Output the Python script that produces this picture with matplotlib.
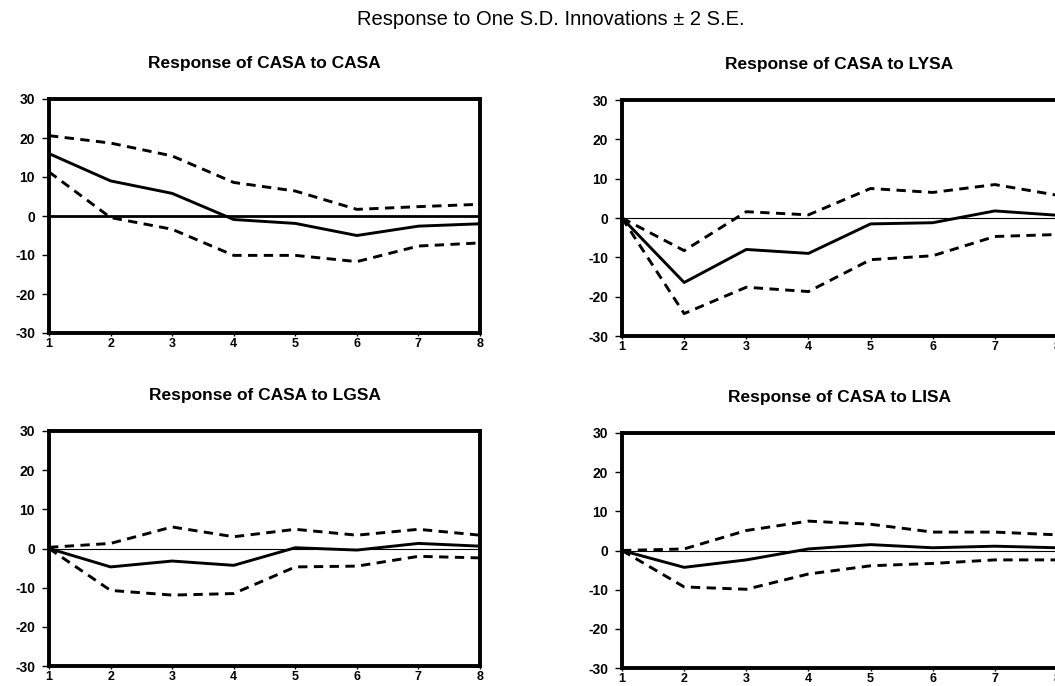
import matplotlib
matplotlib.use("Agg")
import matplotlib.pyplot as plt
import numpy as np

plt.rcParams['font.family'] = ['Liberation Sans', 'DejaVu Sans']

periods = [1, 2, 3, 4, 5, 6, 7, 8]

titles = ["Response of CASA to CASA", "Response of CASA to LYSA",
          "Response of CASA to LGSA", "Response of CASA to LISA"]
main_title = "Response to One S.D. Innovations \u00b1 2 S.E."

# Response of CASA to CASA
casa_mid = [16.0, 9.0, 5.8, -0.9, -1.9, -5.0, -2.6, -2.0]
casa_up = [20.6, 18.7, 15.4, 8.6, 6.4, 1.7, 2.4, 3.0]
casa_lo = [11.3, -0.4, -3.4, -10.1, -10.1, -11.7, -7.7, -6.9]

# Response of CASA to LYSA
lysa_mid = [0.0, -16.4, -8.0, -9.0, -1.5, -1.2, 1.8, 0.7]
lysa_up = [0.0, -8.3, 1.6, 0.8, 7.5, 6.5, 8.5, 5.8]
lysa_lo = [0.0, -24.3, -17.6, -18.7, -10.6, -9.6, -4.7, -4.2]

# Response of CASA to LGSA
lgsa_mid = [0.0, -4.7, -3.2, -4.3, 0.2, -0.4, 1.3, 0.6]
lgsa_up = [0.3, 1.3, 5.5, 3.0, 4.9, 3.4, 4.9, 3.4]
lgsa_lo = [0.0, -10.7, -11.9, -11.5, -4.7, -4.5, -2.0, -2.4]

# Response of CASA to LISA
lisa_mid = [0.0, -4.3, -2.4, 0.4, 1.5, 0.7, 1.1, 0.7]
lisa_up = [0.0, 0.4, 5.1, 7.5, 6.7, 4.7, 4.7, 4.0]
lisa_lo = [0.0, -9.3, -9.9, -6.0, -3.9, -3.3, -2.4, -2.4]

yticks = [30, 20, 10, 0, -10, -20, -30]

W, H = 1055, 686
fig = plt.figure(figsize=(W / 100, H / 100), dpi=100)

def frac(left, top, right, bottom):
    return [left / W, 1 - bottom / H, (right - left) / W, (bottom - top) / H]

boxes = [frac(49, 99, 480, 333), frac(622, 100, 1057, 336),
         frac(49, 431, 480, 666), frac(622, 433, 1057, 668)]
series = [(casa_mid, casa_up, casa_lo), (lysa_mid, lysa_up, lysa_lo),
          (lgsa_mid, lgsa_up, lgsa_lo), (lisa_mid, lisa_up, lisa_lo)]
zero_lw = [2.0, 0.8, 0.8, 0.8]

for i, (box, (mid, up, lo)) in enumerate(zip(boxes, series)):
    ax = fig.add_axes(box)
    ax.axhline(0, color='black', lw=zero_lw[i], zorder=1)
    ax.plot(periods, mid, color='black', lw=2.1, solid_joinstyle='round')
    ax.plot(periods, up, color='black', lw=2.1, linestyle=(0, (3.2, 2.2)))
    ax.plot(periods, lo, color='black', lw=2.1, linestyle=(0, (3.2, 2.2)))
    ax.set_xlim(1, 8)
    ax.set_ylim(-30, 30)
    ax.set_xticks(periods)
    ax.set_xticklabels([str(p) for p in periods], fontsize=9, fontweight='bold')
    ax.set_yticks(yticks)
    ax.set_yticklabels([str(v) for v in yticks], fontsize=10, fontweight='bold')
    ax.tick_params(axis='y', direction='out', length=5, width=1, pad=5)
    ax.tick_params(axis='x', direction='out', length=2, width=1, pad=1.5)
    for s in ax.spines.values():
        s.set_linewidth(2.8)
        s.set_color('black')
    ax.set_title(titles[i], fontsize=12.5, fontweight='bold', pad=22)

fig.text(0.522, 0.971, main_title, ha='center', va='center', fontsize=14.5)

fig.savefig("out.png", dpi=100, facecolor='white')
